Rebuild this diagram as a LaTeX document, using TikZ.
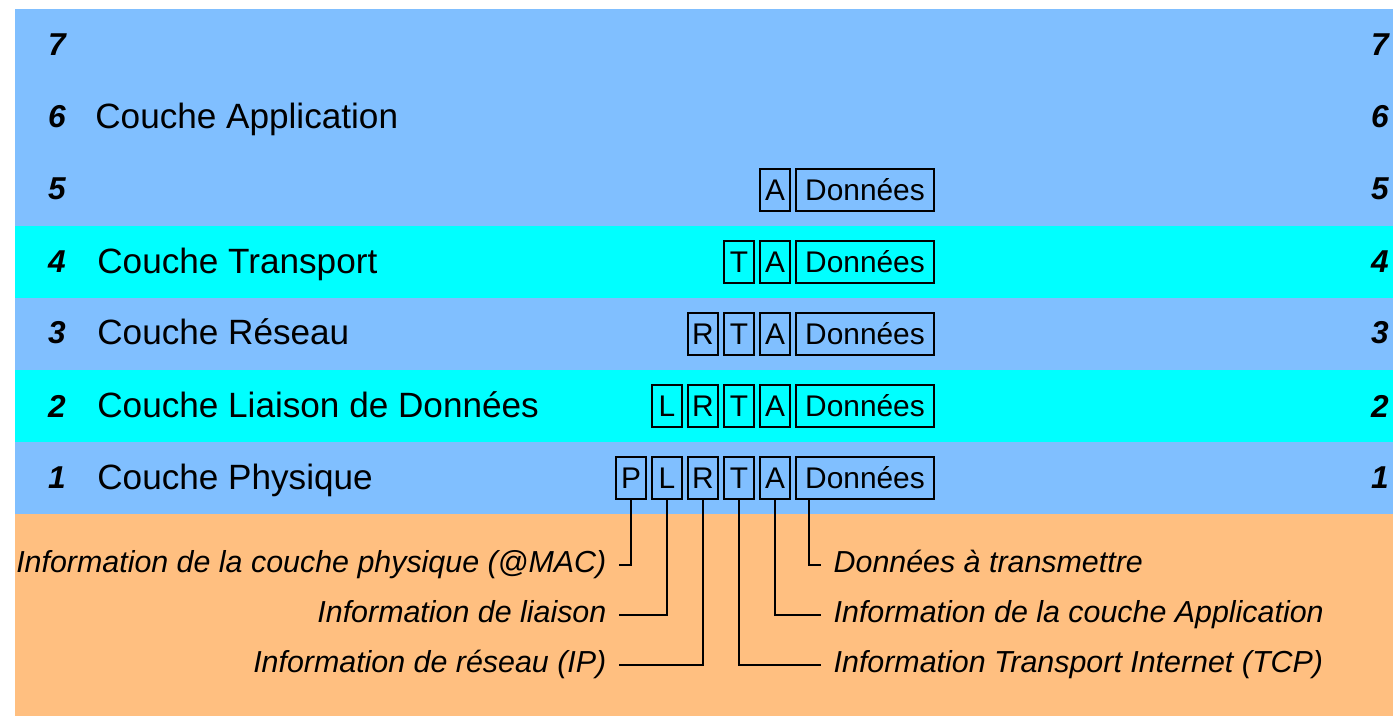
\documentclass[tikz,border=0pt]{standalone}
\usepackage{fontspec}
\setmainfont{Liberation Sans}
\usetikzlibrary{positioning}
\definecolor{fondbleu}{RGB}{128,191,255}
\definecolor{fondcyan}{RGB}{0,255,255}
\definecolor{fondorange}{RGB}{255,191,128}
\begin{document}
\begin{tikzpicture}[x=0.02cm, y=-0.02cm,
    num/.style={font=\fontsize{18}{20}\selectfont\bfseries\itshape, inner sep=0pt},
    couche/.style={anchor=base west, inner sep=0pt, font=\fontsize{20}{24}\selectfont},
    entete/.style={draw, line width=1pt, minimum width=0.6cm, minimum height=0.84cm, inner sep=0pt, font=\fontsize{17}{19}\selectfont},
    donnees/.style={entete, minimum width=2.76cm},
    info/.style={inner ysep=0pt, inner xsep=7pt, text height=12.5pt, text depth=3.5pt, font=\fontsize{17.3}{19}\selectfont\itshape},
    lien/.style={line width=1pt}
]
    \useasboundingbox (0,0) rectangle (1393,717);
    % Bandes des couches
    \fill[white] (0,0) rectangle (1393,717);
    \fill[fondbleu] (15,9) rectangle (1393,226);
    \fill[fondcyan] (15,226) rectangle (1393,298);
    \fill[fondbleu] (15,298) rectangle (1393,370);
    \fill[fondcyan] (15,370) rectangle (1393,442);
    \fill[fondbleu] (15,442) rectangle (1393,514);
    \fill[fondorange] (15,514) rectangle (1393,716);

    % Numeros des couches
    \foreach \n/\y in {7/45, 6/117, 5/189, 4/262, 3/333, 2/406, 1/478} {
        \node[num] (ng\n) at (57,\y) {\n};
        \node[num] (nd\n) at (1380,\y) {\n};
    }

    % Noms des couches
    \node[couche] (c6) at (95,128) {Couche Application};
    \node[couche] (c4) at (97,273) {Couche Transport};
    \node[couche] (c3) at (97,344) {Couche R\'eseau};
    \node[couche] (c2) at (97,417) {Couche Liaison de Donn\'ees};
    \node[couche] (c1) at (97,489) {Couche Physique};

    % Encapsulation
    \foreach \r in {5,...,1}
        \node[donnees] (don\r) at (865,550-72*\r) {Donn\'ees};
    \foreach \lettre/\x/\depuis in {A/775/5, T/739/4, R/703/3, L/667/2, P/631/1}
        \foreach \r in {\depuis,...,1}
            \node[entete] (\lettre\r) at (\x,550-72*\r) {\lettre};

    % Legendes
    \node[info, anchor=east] (iP) at (619,565) {Information de la couche physique (@MAC)};
    \node[info, anchor=east] (iL) at (619,615) {Information de liaison};
    \node[info, anchor=east] (iR) at (619,665) {Information de r\'eseau (IP)};
    \node[info, anchor=west] (iD) at (821,565) {Donn\'ees \`a transmettre};
    \node[info, anchor=west] (iA) at (821,615) {Information de la couche Application};
    \node[info, anchor=west] (iT) at (821,665) {Information Transport Internet (TCP)};

    \draw[lien] (P1.south) |- (iP.east);
    \draw[lien] (L1.south) |- (iL.east);
    \draw[lien] (R1.south) |- (iR.east);
    \draw[lien] (T1.south) |- (iT.west);
    \draw[lien] (A1.south) |- (iA.west);
    \draw[lien] ([xshift=0.28cm]don1.south west) |- (iD.west);
\end{tikzpicture}
\end{document}
